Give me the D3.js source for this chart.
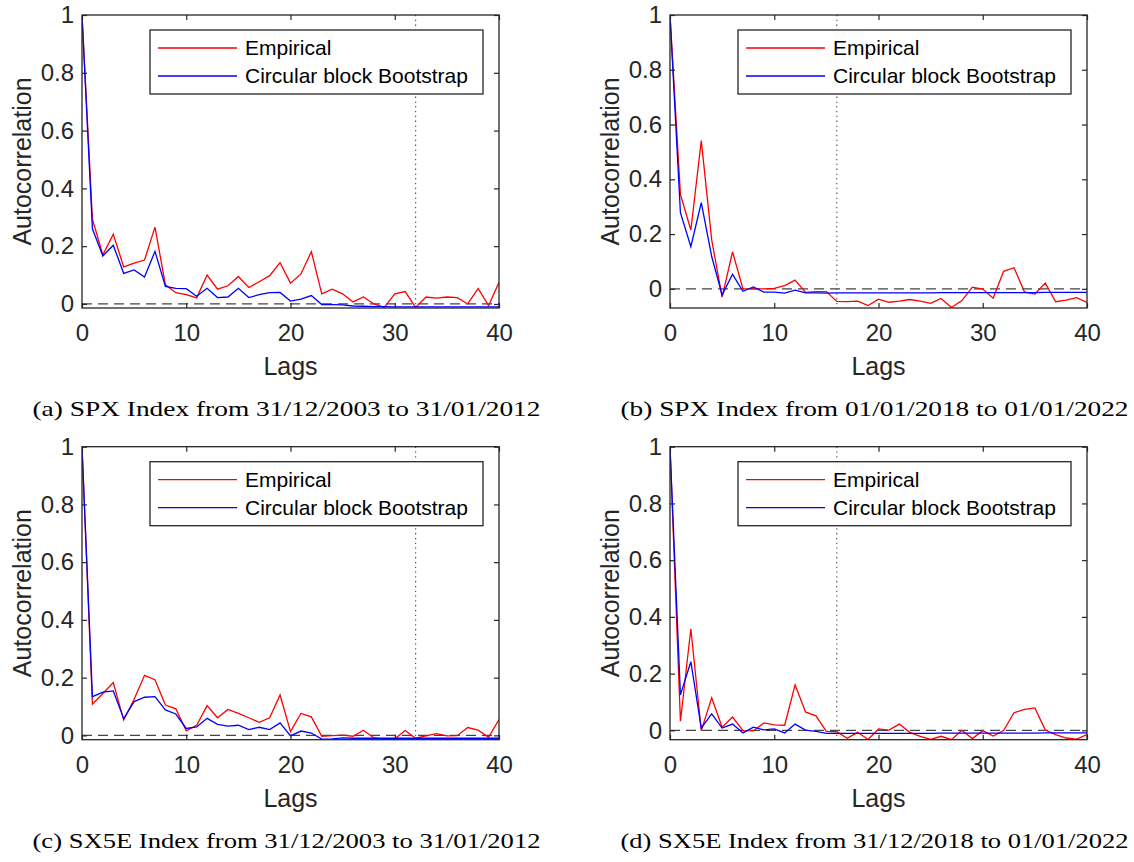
<!DOCTYPE html>
<html>
<head>
<meta charset="utf-8">
<script src="https://cdn.jsdelivr.net/npm/d3@7"></script>
<style>
  body { margin: 0; background: #fff; }
  .tick text { font-family: "Liberation Sans", Arial, sans-serif; font-size: 24px; fill: #262626; }
  .tick line { stroke: #262626; stroke-width: 1.2; }
  .axis-label { font-family: "Liberation Sans", Arial, sans-serif; font-size: 25px; fill: #262626; }
  .legend-text { font-family: "Liberation Sans", Arial, sans-serif; font-size: 21px; fill: #000; }
  .caption { font-family: "Liberation Serif", "Times New Roman", serif; font-size: 21.5px; fill: #000; }
</style>
</head>
<body>
<div id="vis"></div>
<script>
// lags on the x axis
const lags = [0,1,2,3,4,5,6,7,8,9,10,11,12,13,14,15,16,17,18,19,20,
              21,22,23,24,25,26,27,28,29,30,31,32,33,34,35,36,37,38,39,40];

// (a) SPX 2003-2012
const empA = [1, 0.293, 0.17, 0.241, 0.128, 0.141, 0.152, 0.266, 0.066, 0.039, 0.032, 0.021, 0.10, 0.051, 0.063, 0.095,
              0.057, 0.077, 0.098, 0.143, 0.072, 0.104, 0.181, 0.035, 0.051, 0.035, 0.007, 0.024, 0.0, -0.012, 0.035,
              0.043, -0.012, 0.024, 0.02, 0.024, 0.022, 0.0, 0.054, -0.006, 0.075];
const cbbA = [1, 0.26, 0.166, 0.203, 0.106, 0.118, 0.093, 0.182, 0.061, 0.054, 0.053, 0.027, 0.054, 0.022, 0.024, 0.054,
              0.022, 0.032, 0.039, 0.04, 0.01, 0.017, 0.029, -0.002, -0.002, -0.003, -0.007, -0.008, -0.009, -0.009, -0.01,
              -0.01, -0.01, -0.01, -0.01, -0.01, -0.01, -0.01, -0.01, -0.01, -0.01];

// (b) SPX 2018-2022
const empB = [1, 0.345, 0.215, 0.541, 0.179, -0.03, 0.135, 0.0, 0.0, 0.0, 0.002, 0.012, 0.032, -0.013, -0.01, -0.01,
              -0.046, -0.047, -0.045, -0.061, -0.038, -0.049, -0.045, -0.039, -0.045, -0.053, -0.035, -0.068, -0.043, 0.006, -0.001,
              -0.034, 0.064, 0.077, -0.011, -0.019, 0.021, -0.047, -0.041, -0.032, -0.05];
const cbbB = [1, 0.278, 0.154, 0.315, 0.118, -0.022, 0.053, -0.009, 0.007, -0.012, -0.012, -0.016, -0.005, -0.015, -0.015, -0.016,
              -0.015, -0.015, -0.015, -0.015, -0.015, -0.015, -0.015, -0.015, -0.015, -0.015, -0.014, -0.014, -0.014, -0.014, -0.014,
              -0.014, -0.014, -0.014, -0.014, -0.014, -0.013, -0.013, -0.013, -0.013, -0.013];

// (c) SX5E 2003-2012
const empC = [1, 0.108, 0.145, 0.183, 0.053, 0.125, 0.208, 0.193, 0.105, 0.092, 0.016, 0.035, 0.103, 0.061, 0.09, 0.076,
              0.061, 0.045, 0.061, 0.14, 0.013, 0.076, 0.064, -0.003, -0.001, 0.001, -0.003, 0.018, -0.009, -0.013, -0.012,
              0.017, -0.01, -0.002, 0.006, -0.002, -0.001, 0.027, 0.018, -0.007, 0.055];
const cbbC = [1, 0.134, 0.15, 0.154, 0.058, 0.117, 0.132, 0.134, 0.088, 0.074, 0.024, 0.029, 0.059, 0.038, 0.032, 0.035,
              0.02, 0.028, 0.02, 0.043, -0.002, 0.015, 0.008, -0.013, -0.012, -0.009, -0.01, -0.01, -0.01, -0.01, -0.01,
              -0.01, -0.01, -0.01, -0.01, -0.01, -0.01, -0.01, -0.01, -0.01, -0.01];

// (d) SX5E 2018-2022
const empD = [1, 0.032, 0.358, -0.001, 0.115, 0.011, 0.047, -0.001, -0.002, 0.026, 0.019, 0.018, 0.16, 0.065, 0.051, -0.004,
              -0.005, -0.028, -0.007, -0.032, 0.005, 0.001, 0.022, -0.007, -0.021, -0.032, -0.021, -0.033, 0.0, -0.029, -0.001,
              -0.02, -0.001, 0.062, 0.074, 0.079, 0.001, -0.015, -0.027, -0.031, -0.015];
const cbbD = [1, 0.125, 0.242, 0.008, 0.058, 0.008, 0.022, -0.009, 0.011, 0.002, 0.005, -0.009, 0.022, 0.001, -0.004, -0.011,
              -0.011, -0.011, -0.011, -0.011, -0.011, -0.011, -0.011, -0.011, -0.011, -0.011, -0.01, -0.01, -0.01, -0.01, -0.01,
              -0.01, -0.01, -0.01, -0.01, -0.01, -0.009, -0.009, -0.009, -0.009, -0.009];

const captions = [
  "(a) SPX Index from 31/12/2003 to 31/01/2012",
  "(b) SPX Index from 01/01/2018 to 01/01/2022",
  "(c) SX5E Index from 31/12/2003 to 31/01/2012",
  "(d) SX5E Index from 31/12/2018 to 01/01/2022"
];
const blockLag = [32, 16, 32, 16];   // dotted vertical line
const yLow = [-0.014, -0.07, -0.015, -0.033]; // lower y limit of each panel
const xTicks = [0, 10, 20, 30, 40];
const yTicks = [0, 0.2, 0.4, 0.6, 0.8, 1];
const seriesNames = ["Empirical", "Circular block Bootstrap"];
const seriesColors = ["#ff0000", "#0000ff"];

const panels = [
  {emp: empA, cbb: cbbA, dx: 0,   dy: 0},
  {emp: empB, cbb: cbbB, dx: 588, dy: 0},
  {emp: empC, cbb: cbbC, dx: 0,   dy: 431.7},
  {emp: empD, cbb: cbbD, dx: 588, dy: 431.7}
];

// plot area of one panel
const margin = {top: 15, left: 82};
const width = 417;
const height = 293;

const svg = d3.select('#vis')
  .append('svg')
  .attr('width', 1134)
  .attr('height', 862)
  .style('background', '#fff');

panels.forEach((p, i) => {
  const g = svg.append('g')
    .attr('transform', `translate(${margin.left + p.dx},${margin.top + p.dy})`);

  const x = d3.scaleLinear().domain([0, 40]).range([0, width]);
  const y = d3.scaleLinear().domain([yLow[i], 1]).range([height, 0]);

  g.append('clipPath').attr('id', 'clip' + i)
    .append('rect').attr('width', width).attr('height', height);

  // zero line and block-length marker
  g.append('line')
    .attr('x1', 0).attr('x2', width)
    .attr('y1', y(0)).attr('y2', y(0))
    .attr('stroke', '#444').attr('stroke-width', 1.2)
    .attr('stroke-dasharray', '10,6');
  g.append('line')
    .attr('x1', x(blockLag[i])).attr('x2', x(blockLag[i]))
    .attr('y1', 0).attr('y2', height)
    .attr('stroke', '#555').attr('stroke-width', 1.2)
    .attr('stroke-dasharray', '1.3,3.5');

  // data lines
  const line = d3.line().x((d, k) => x(lags[k])).y(d => y(d));
  [p.emp, p.cbb].forEach((s, j) => {
    g.append('path')
      .datum(s)
      .attr('clip-path', `url(#clip${i})`)
      .attr('fill', 'none')
      .attr('stroke', seriesColors[j])
      .attr('stroke-width', 1.3)
      .attr('d', line);
  });

  // axes, ticks pointing inward on all sides
  const fmt = d => d3.format('~g')(d);
  g.append('g').attr('transform', `translate(0,${height})`)
    .call(d3.axisBottom(x).tickValues(xTicks).tickSize(-5).tickPadding(16).tickFormat(fmt))
    .call(a => a.select('.domain').remove());
  g.append('g')
    .call(d3.axisLeft(y).tickValues(yTicks).tickSize(-5).tickPadding(8).tickFormat(fmt))
    .call(a => a.select('.domain').remove());
  g.append('g')
    .call(d3.axisTop(x).tickValues(xTicks).tickSize(-5).tickFormat(''))
    .call(a => a.select('.domain').remove());
  g.append('g').attr('transform', `translate(${width},0)`)
    .call(d3.axisRight(y).tickValues(yTicks).tickSize(-5).tickFormat(''))
    .call(a => a.select('.domain').remove());
  g.selectAll('.tick text').attr('fill', '#262626');

  g.append('rect')
    .attr('width', width).attr('height', height)
    .attr('fill', 'none').attr('stroke', '#262626').attr('stroke-width', 1.3);

  // axis labels
  g.append('text').attr('class', 'axis-label')
    .attr('x', width / 2).attr('y', height + 67)
    .attr('text-anchor', 'middle').text('Lags');
  g.append('text').attr('class', 'axis-label')
    .attr('transform', `translate(-51,${height / 2}) rotate(-90)`)
    .attr('text-anchor', 'middle').text('Autocorrelation');

  // legend
  const lg = g.append('g').attr('transform', 'translate(68,15)');
  lg.append('rect').attr('width', 333).attr('height', 64)
    .attr('fill', '#fff').attr('stroke', '#262626').attr('stroke-width', 1.3);
  seriesNames.forEach((name, j) => {
    const ly = 18 + j * 28;
    lg.append('line').attr('x1', 8).attr('x2', 87).attr('y1', ly).attr('y2', ly)
      .attr('stroke', seriesColors[j]).attr('stroke-width', 1.3);
    lg.append('text').attr('class', 'legend-text')
      .attr('x', 95).attr('y', ly).attr('dy', '0.35em').text(name);
  });

  // sub-figure caption
  g.append('text').attr('class', 'caption')
    .attr('x', width / 2 - 4).attr('y', 401)
    .attr('text-anchor', 'middle')
    .attr('textLength', 508).attr('lengthAdjust', 'spacingAndGlyphs')
    .text(captions[i]);
});
</script>
</body>
</html>
